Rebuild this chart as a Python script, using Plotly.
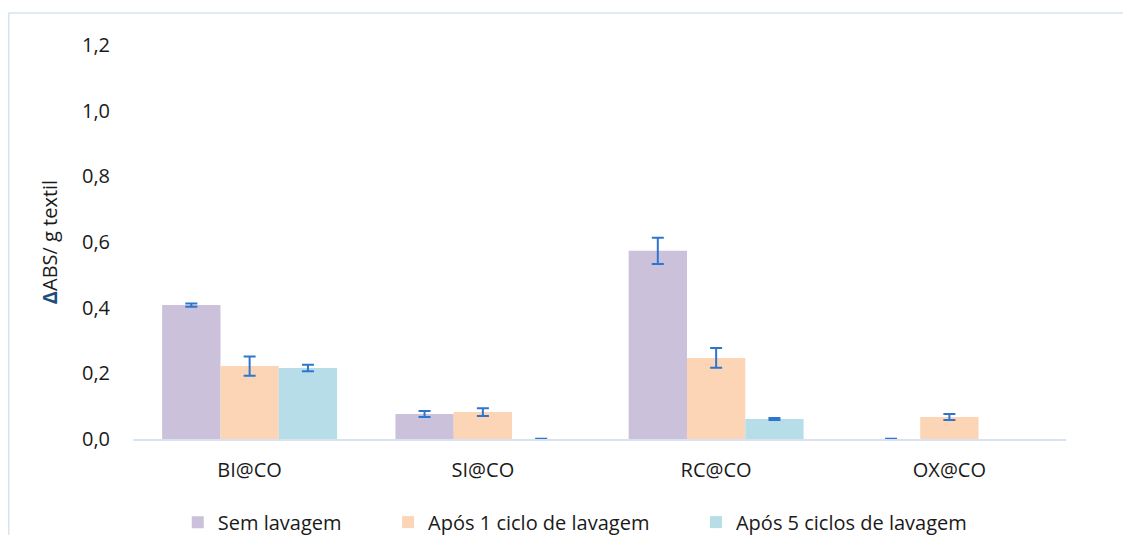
import plotly.graph_objects as go

categories = ["BI@CO", "SI@CO", "RC@CO", "OX@CO"]

sem_lavagem = [0.408, 0.076, 0.573, 0.0]
sem_lavagem_err = [0.005, 0.009, 0.040, 0.001]

apos_1 = [0.222, 0.082, 0.247, 0.067]
apos_1_err = [0.029, 0.012, 0.030, 0.009]

apos_5 = [0.216, 0.0, 0.061, None]
apos_5_err = [0.010, 0.001, 0.003, None]

series = [
    ("Sem lavagem", sem_lavagem, sem_lavagem_err, "#CCC1DA"),
    ("Após 1 ciclo de lavagem", apos_1, apos_1_err, "#FBD5B5"),
    ("Após 5 ciclos de lavagem", apos_5, apos_5_err, "#B7DEE8"),
]

font = "'Open Sans', 'Noto Sans', sans-serif"
pad = "\u00a0" * 8

fig = go.Figure()
for name, vals, errs, color in series:
    fig.add_trace(
        go.Bar(
            x=categories,
            y=vals,
            name=name + pad,
            marker={"color": color, "line": {"width": 0}},
            error_y={
                "type": "data",
                "array": errs,
                "visible": True,
                "color": "#2E75D0",
                "thickness": 2,
                "width": 6,
            },
        )
    )

# page body has an 8px margin, so the figure is 8px smaller than the window
fig.update_layout(
    width=1123,
    height=527,
    barmode="group",
    bargap=0.25,
    bargroupgap=0,
    separators=",.",
    plot_bgcolor="white",
    paper_bgcolor="white",
    font={"family": font, "size": 20, "color": "#1a1a1a"},
    margin={"l": 125, "r": 65, "t": 37, "b": 96, "autoexpand": False},
    legend={
        "orientation": "h",
        "x": 0.496,
        "xanchor": "center",
        "y": -0.211,
        "yanchor": "middle",
        "font": {"size": 20},
        "itemwidth": 30,
    },
    shapes=[
        {
            "type": "line", "xref": "paper", "yref": "paper",
            "x0": -0.1332, "x1": 1.07, "y0": 1.081, "y1": 1.081,
            "line": {"color": "#D6E3F2", "width": 1.5},
        },
        {
            "type": "line", "xref": "paper", "yref": "paper",
            "x0": -0.1332, "x1": -0.1332, "y0": 1.081, "y1": -0.25,
            "line": {"color": "#D6E3F2", "width": 1.5},
        },
    ],
)

fig.update_xaxes(
    showline=True,
    linecolor="#D9E2F0",
    linewidth=2,
    showgrid=False,
    ticks="",
    ticklabelstandoff=12,
)
fig.update_yaxes(
    range=[0, 1.2],
    dtick=0.2,
    tickformat=".1f",
    showgrid=False,
    zeroline=False,
    showline=False,
    ticks="",
    ticklabelstandoff=22,
    title={
        "text": "<span style='color:#1F4E79'><b>Δ</b></span>ABS/ g textil",
        "font": {"size": 20},
        "standoff": 18,
    },
)

fig.write_html("out.html")
